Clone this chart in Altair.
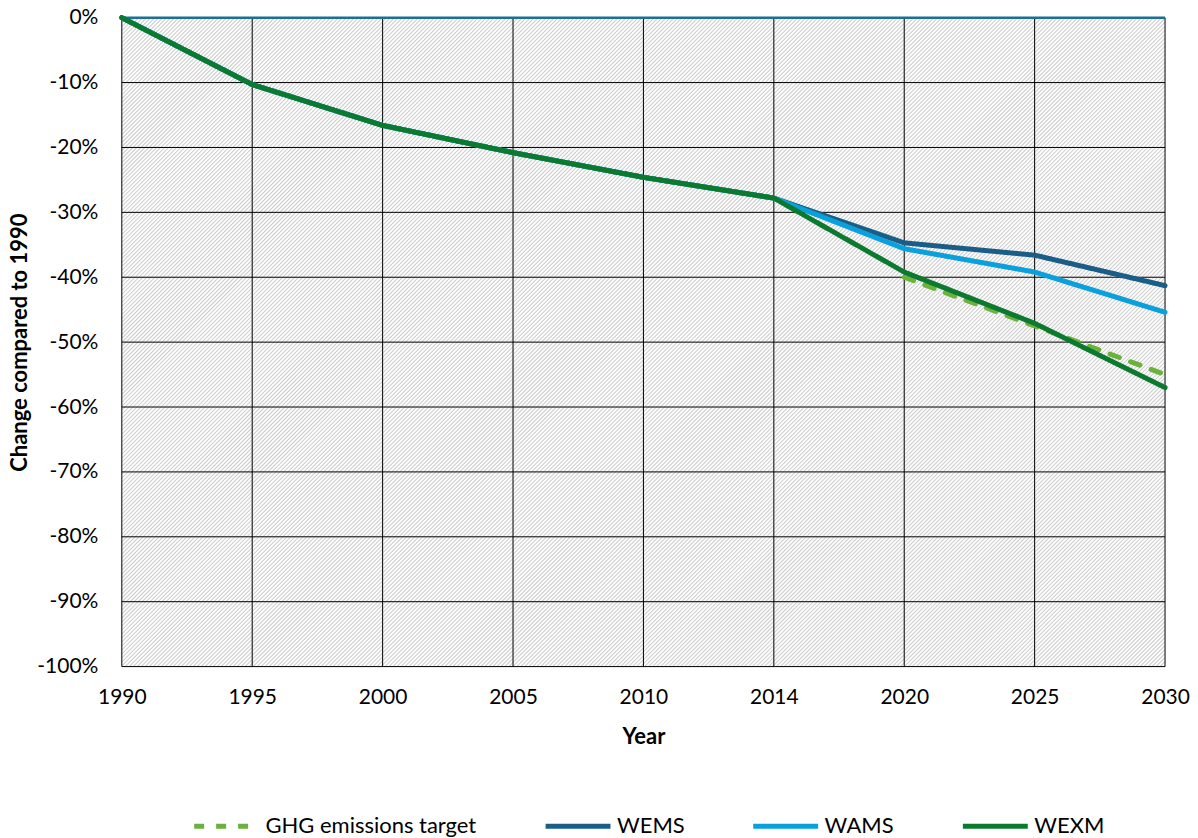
import altair as alt
import pandas as pd

years = ["1990", "1995", "2000", "2005", "2010", "2014", "2020", "2025", "2030"]
series_names = ["GHG emissions target", "WEMS", "WAMS", "WEXM"]
series_colors = ["#6AB23C", "#1A5E87", "#0AA0DB", "#0B7A2E"]

target_years = ["2020", "2025", "2030"]
target_vals = [-40.0, -47.5, -55.0]
wems_vals = [0.0, -10.3, -16.6, -20.8, -24.6, -27.8, -34.7, -36.6, -41.3]
wams_vals = [0.0, -10.3, -16.6, -20.8, -24.6, -27.8, -35.6, -39.2, -45.4]
wexm_vals = [0.0, -10.3, -16.6, -20.8, -24.6, -27.8, -39.2, -47.1, -57.0]
y_ticks = [0, -10, -20, -30, -40, -50, -60, -70, -80, -90, -100]

rows = []
for y, v in zip(target_years, target_vals):
    rows.append({"series": series_names[0], "year": y, "value": v})
for name, vals in zip(series_names[1:], [wems_vals, wams_vals, wexm_vals]):
    for y, v in zip(years, vals):
        rows.append({"series": name, "year": y, "value": v})
df = pd.DataFrame(rows)

W, H = 1045, 650
FONT = "Lato"

x_scale = alt.Scale(type="point", padding=0, domain=years)
y_scale = alt.Scale(domain=[-100, 0], nice=False, zero=False)

x_axis = alt.Axis(
    title="Year", labelAngle=0, ticks=False, domain=False, grid=False,
    labelFont=FONT, labelFontSize=21, labelColor="#000000", labelPadding=20,
    titleFont=FONT, titleFontSize=22, titleFontWeight="bold", titleColor="#000000",
    titlePadding=19,
)
y_axis = alt.Axis(
    title="Change compared to 1990", values=y_ticks, ticks=False, domain=False, grid=False,
    labelExpr="datum.value + '%'",
    labelFont=FONT, labelFontSize=21, labelColor="#000000", labelPadding=24,
    titleFont=FONT, titleFontSize=22, titleFontWeight="bold", titleColor="#000000",
    titlePadding=5,
)

# plot-area background (white), spanning the data extent
bg_df = pd.DataFrame({"x0": [years[0]], "x1": [years[-1]], "y0": [y_ticks[0]], "y1": [y_ticks[-1]]})
background = alt.Chart(bg_df).mark_rect(fill="#ffffff", stroke=None).encode(
    x=alt.X("x0:O", scale=x_scale, axis=x_axis),
    x2="x1:O",
    y=alt.Y("y0:Q", scale=y_scale, axis=y_axis),
    y2="y1:Q",
)

# decorative diagonal hatch: one very wide dashed stroke at 45 degrees, clipped to the plot
hatch = alt.Chart(bg_df).mark_rule(
    clip=True, color="#cfcfcf", strokeWidth=1600, strokeDash=[1.13, 1.7], strokeCap="butt"
).encode(
    x=alt.value(-200), y=alt.value(-200), x2=alt.value(1100), y2=alt.value(1100)
)

vgrid = alt.Chart(pd.DataFrame({"year": years})).mark_rule(color="#000000", strokeWidth=1).encode(
    x=alt.X("year:O", scale=x_scale, axis=x_axis)
)
hgrid = alt.Chart(pd.DataFrame({"value": y_ticks})).mark_rule(color="#000000", strokeWidth=1).encode(
    y=alt.Y("value:Q", scale=y_scale, axis=y_axis)
)

legend_kw = dict(
    title=None, orient="none", legendX=70, legendY=775, direction="horizontal",
    columns=4, symbolType="stroke", symbolSize=4225, symbolStrokeWidth=5,
    labelFont=FONT, labelFontSize=22, labelColor="#000000", labelLimit=400,
    labelOffset=4,
)

lines = alt.Chart(df).mark_line(strokeWidth=5, strokeCap="round", strokeJoin="round").encode(
    x=alt.X("year:O", scale=x_scale, axis=x_axis),
    y=alt.Y("value:Q", scale=y_scale, axis=y_axis),
    color=alt.Color(
        "series:N",
        scale=alt.Scale(domain=series_names, range=series_colors),
        legend=alt.Legend(**legend_kw),
    ),
    strokeDash=alt.StrokeDash(
        "series:N",
        scale=alt.Scale(domain=series_names, range=[[10, 12], [1, 0], [1, 0], [1, 0]]),
        legend=alt.Legend(**legend_kw),
    ),
    detail="series:N",
)

top_line = alt.Chart(pd.DataFrame({"v": [y_ticks[0]]})).mark_rule(color="#1F6E96", strokeWidth=2.5).encode(
    y=alt.Y("v:Q", scale=y_scale, axis=y_axis)
)

chart = (
    alt.layer(background, hatch, vgrid, hgrid, top_line, lines)
    .properties(
        width=W, height=H,
        autosize=alt.AutoSizeParams(type="none"),
        padding={"left": 114, "top": 9, "right": 25, "bottom": 170},
        background="#ffffff",
    )
    .configure_view(stroke="transparent")
    .configure_legend(columnPadding=58)
)

chart.save("out.html", embed_options={"renderer": "svg", "actions": False})
